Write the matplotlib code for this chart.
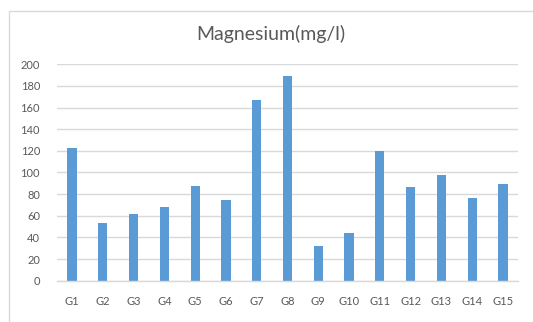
import matplotlib
matplotlib.use('Agg')
import matplotlib.pyplot as plt
from matplotlib.patches import Rectangle

# Magnesium concentration per sample group
groups = ['G1', 'G2', 'G3', 'G4', 'G5', 'G6', 'G7', 'G8', 'G9', 'G10',
          'G11', 'G12', 'G13', 'G14', 'G15']
magnesium = [123, 53, 62, 68, 87.5, 75, 166.7, 189, 32, 44,
             120, 86.5, 97.5, 76.5, 89.5]
y_ticks = [0, 20, 40, 60, 80, 100, 120, 140, 160, 180, 200]

plt.rcParams['font.family'] = ['Lato', 'DejaVu Sans']

fig = plt.figure(figsize=(5.33, 3.22), dpi=100)
fig.patch.set_facecolor('white')

# light frame round the chart area
fig.patches.append(Rectangle((8.7 / 533, -0.1), 1.2, 1.1 - 11 / 322,
                             transform=fig.transFigure, fill=False,
                             edgecolor='#d9d9d9', linewidth=1.0))

ax = fig.add_axes([56.7 / 533, 1 - 280.7 / 322, 461.6 / 533, 216.4 / 322])
x = range(len(groups))
ax.bar(x, magnesium, width=0.3, color='#5b9bd5', zorder=3)

ax.set_xlim(-0.5, len(groups) - 0.5)
ax.set_ylim(0, 200)
ax.set_yticks(y_ticks)
ax.set_xticks(list(x))
ax.set_xticklabels(groups)

ax.grid(axis='y', color='#d9d9d9', linewidth=1.0, zorder=0)
for side in ['top', 'right', 'left']:
    ax.spines[side].set_visible(False)
ax.spines['bottom'].set_color('#d9d9d9')
ax.spines['bottom'].set_linewidth(1.0)
ax.spines['bottom'].set_zorder(4)

ax.tick_params(axis='both', length=0, labelsize=8, labelcolor='#595959')
ax.tick_params(axis='y', pad=12)
ax.tick_params(axis='x', pad=11)

fig.text(271 / 533, 1 - 34 / 322, 'Magnesium(mg/l)', ha='center', va='center',
         fontsize=14, color='#595959')

plt.savefig('out.png', dpi=100)
